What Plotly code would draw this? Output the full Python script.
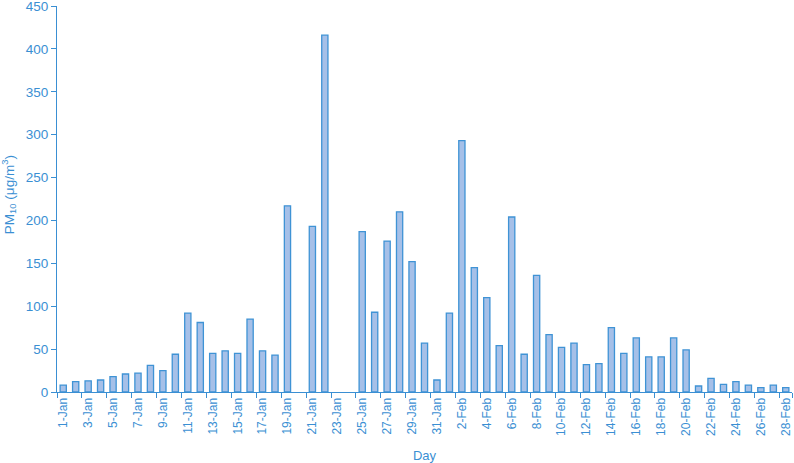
import plotly.graph_objects as go

days = [f"{d}-Jan" for d in range(1, 32)] + [f"{d}-Feb" for d in range(1, 29)]
pm10 = [8, 12, 13, 14, 18, 21, 22, 31, 25, 44,
        92, 81, 45, 48, 45, 85, 48, 43, 217, None,
        193, 416, None, None, 187, 93, 176, 210, 152, 57,
        14, 92, 293, 145, 110, 54, 204, 44, 136, 67,
        52, 57, 32, 33, 75, 45, 63, 41, 41, 63,
        49, 7, 16, 9, 12, 8, 5, 8, 5]
tick_labels = days[::2]
y_ticks = list(range(0, 451, 50))

blue = "#3A8FD3"
fig = go.Figure(go.Bar(
    x=days, y=pm10,
    marker=dict(color="#A6C0E8", line=dict(color="#3F93D5", width=1.3)),
))
fig.update_layout(
    width=794, height=463,
    margin=dict(l=57, r=2, t=6, b=71),
    paper_bgcolor="white", plot_bgcolor="white",
    bargap=0.5, showlegend=False,
    font=dict(family="Liberation Sans, Arial, sans-serif", color=blue, size=13),
)
fig.update_xaxes(
    type="category", tickmode="array", tickvals=tick_labels, ticktext=tick_labels,
    tickangle=-90, tickson="boundaries", ticks="outside", ticklen=5, tickcolor=blue,
    showline=True, linecolor=blue, linewidth=1.2, showgrid=False,
    tickfont=dict(size=12, color=blue),
    title=dict(text="Day", font=dict(size=13, color=blue), standoff=15),
    range=[-0.5, 58.5], automargin=False,
)
fig.update_yaxes(
    range=[0, 450], tickvals=y_ticks, ticks="outside", ticklen=5, tickcolor=blue,
    showline=True, linecolor=blue, linewidth=1.2, showgrid=False, zeroline=False,
    tickfont=dict(size=13.5, color=blue), ticklabeloverflow="allow",
    automargin=False,
)
fig.add_annotation(
    text="PM<sub>10</sub> (μg/m<sup>3</sup>)", textangle=-90,
    xref="paper", yref="paper", x=0, y=0.51, xshift=-48,
    xanchor="center", yanchor="middle",
    showarrow=False, font=dict(size=13.5, color=blue),
)
fig.write_html("out.html", post_script="document.body.style.margin='0';",
               config={"displayModeBar": False})
